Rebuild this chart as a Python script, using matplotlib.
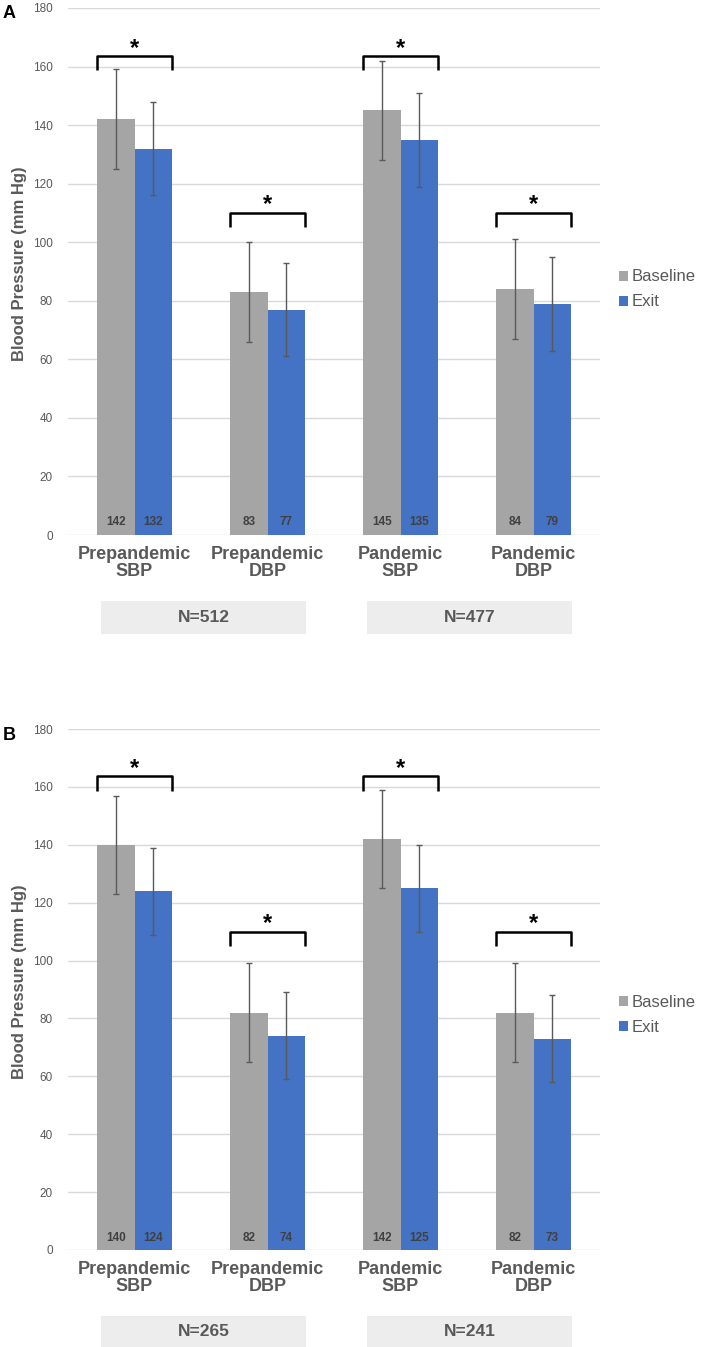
import matplotlib.pyplot as plt
import numpy as np

plt.rcParams['font.family'] = ['Liberation Sans', 'DejaVu Sans']

categories = ['Prepandemic\nSBP', 'Prepandemic\nDBP', 'Pandemic\nSBP', 'Pandemic\nDBP']
series = ['Baseline', 'Exit']

# panel A
a_baseline = [142, 83, 145, 84]
a_exit = [132, 77, 135, 79]
a_baseline_sd = [17, 17, 17, 17]
a_exit_sd = [16, 16, 16, 16]
a_n = ['N=512', 'N=477']

# panel B
b_baseline = [140, 82, 142, 82]
b_exit = [124, 74, 125, 73]
b_baseline_sd = [17, 17, 17, 17]
b_exit_sd = [15, 15, 15, 15]
b_n = ['N=265', 'N=241']

# height of the significance bracket over each pair
bracket_top = [163.6, 110, 163.6, 110]

GRAY = '#a5a5a5'
BLUE = '#4472c4'
TXT = '#595959'

W, H = 709, 1347
fig = plt.figure(figsize=(W / 100, H / 100), dpi=100)


def panel(top_px, bot_px, letter, base, ext, base_sd, ext_sd, n_labels, leg_y):
    ax = fig.add_axes([68 / W, 1 - bot_px / H, 532 / W, (bot_px - top_px) / H])
    x = np.arange(len(categories))
    bw = 0.282
    ax.bar(x - bw / 2, base, bw, color=GRAY, label=series[0], zorder=2)
    ax.bar(x + bw / 2, ext, bw, color=BLUE, label=series[1], zorder=2)
    ax.errorbar(x - bw / 2, base, yerr=base_sd, fmt='none', ecolor=TXT,
                elinewidth=1, capsize=2.5, capthick=1, zorder=3)
    ax.errorbar(x + bw / 2, ext, yerr=ext_sd, fmt='none', ecolor=TXT,
                elinewidth=1, capsize=2.5, capthick=1, zorder=3)
    for i in range(len(x)):
        ax.text(x[i] - bw / 2, 4.3, str(base[i]), ha='center', va='center',
                fontsize=8.5, fontweight='bold', color='#404040', zorder=4)
        ax.text(x[i] + bw / 2, 4.3, str(ext[i]), ha='center', va='center',
                fontsize=8.5, fontweight='bold', color='#404040', zorder=4)
        # bracket + star
        yb = bracket_top[i]
        ax.plot([x[i] - 0.285, x[i] - 0.285, x[i] + 0.285, x[i] + 0.285],
                [yb - 4.9, yb, yb, yb - 4.9], color='black', lw=1.8,
                solid_joinstyle='round', solid_capstyle='butt', zorder=4)
        ax.text(x[i], yb + 0.5, '*', ha='center', va='baseline', fontsize=17,
                fontweight='bold', color='black')

    ax.set_xlim(-0.5, 3.5)
    ax.set_ylim(0, 180)
    ax.set_yticks(range(0, 181, 20))
    ax.yaxis.grid(True, color='#d9d9d9', lw=1)
    ax.set_axisbelow(True)
    for s in ax.spines.values():
        s.set_visible(False)
    ax.tick_params(axis='y', length=0, pad=11, labelsize=8.5, labelcolor=TXT)
    ax.tick_params(axis='x', length=0, pad=8)
    ax.set_xticks(x)
    ax.set_xticklabels(categories, fontsize=13, fontweight='bold', color=TXT,
                       linespacing=1.0)

    # N boxes under pairs of groups
    for k, lab in enumerate(n_labels):
        x0 = x[2 * k] - 0.25
        x1 = x[2 * k + 1] + 0.29
        rect = plt.Rectangle((x0, -0.188), x1 - x0, 0.062, transform=ax.get_xaxis_transform(),
                             facecolor='#ededed', edgecolor='none', clip_on=False)
        ax.add_patch(rect)
        ax.text((x0 + x1) / 2, -0.157, lab, transform=ax.get_xaxis_transform(),
                ha='center', va='center', fontsize=12.5, fontweight='bold', color=TXT)

    ax.legend(loc='center left', bbox_to_anchor=(1.035, leg_y), frameon=False,
              fontsize=12, handlelength=0.55, handleheight=0.55, handletextpad=0.25,
              labelspacing=0.6, borderpad=0, borderaxespad=0, labelcolor=TXT)

    mid = (top_px + bot_px) / 2 - 8
    fig.text(20 / W, 1 - mid / H, 'Blood Pressure (mm Hg)', rotation=90, ha='center',
             va='center', fontsize=12, fontweight='bold', color=TXT)
    fig.text(3 / W, 1 - (top_px + 6) / H, letter, ha='left', va='center', fontsize=13,
             fontweight='bold', color='black')
    return ax


panel(8, 535, 'A', a_baseline, a_exit, a_baseline_sd, a_exit_sd, a_n, 0.466)
panel(729, 1250, 'B', b_baseline, b_exit, b_baseline_sd, b_exit_sd, b_n, 0.451)

fig.savefig('out.png', dpi=100)
